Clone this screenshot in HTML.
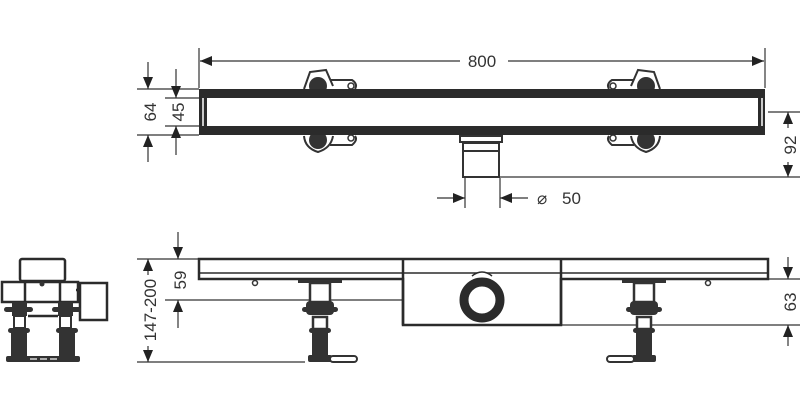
<!DOCTYPE html>
<html><head><meta charset="utf-8"><style>
html,body{margin:0;padding:0;background:#fff;}
svg{display:block;}
text{font-family:"Liberation Sans",sans-serif;font-size:17px;fill:#333;}
</style></head><body>
<svg width="800" height="414" viewBox="0 0 800 414" xmlns="http://www.w3.org/2000/svg">
<defs>
<marker id="a" viewBox="0 0 12 10" refX="12" refY="5" markerWidth="12" markerHeight="10" markerUnits="userSpaceOnUse" orient="auto"><path d="M0,0L12,5L0,10z" fill="#222"/></marker>
</defs>
<g stroke="#333" stroke-width="1.2" fill="none">
<line x1="199" y1="48" x2="199" y2="88"/><line x1="765" y1="48" x2="765" y2="88"/>
<line x1="460" y1="61" x2="200" y2="61" marker-end="url(#a)"/>
<line x1="508" y1="61" x2="764" y2="61" marker-end="url(#a)"/>
<line x1="137" y1="89" x2="199" y2="89"/><line x1="137" y1="135" x2="199" y2="135"/>
<line x1="165" y1="98" x2="199" y2="98"/><line x1="165" y1="126" x2="199" y2="126"/>
<line x1="148" y1="62" x2="148" y2="89" marker-end="url(#a)"/>
<line x1="148" y1="162" x2="148" y2="135" marker-end="url(#a)"/>
<line x1="176" y1="69" x2="176" y2="98" marker-end="url(#a)"/>
<line x1="176" y1="155" x2="176" y2="126" marker-end="url(#a)"/>
<line x1="768" y1="112" x2="800" y2="112"/><line x1="500" y1="177" x2="800" y2="177"/>
<line x1="788" y1="128" x2="788" y2="112" marker-end="url(#a)"/>
<line x1="788" y1="162" x2="788" y2="177" marker-end="url(#a)"/>
<line x1="465" y1="178" x2="465" y2="208"/><line x1="500" y1="178" x2="500" y2="208"/>
<line x1="437" y1="198" x2="465" y2="198" marker-end="url(#a)"/>
<line x1="528" y1="198" x2="500" y2="198" marker-end="url(#a)"/>
<line x1="137" y1="259" x2="199" y2="259"/><line x1="137" y1="362" x2="305" y2="362"/>
<line x1="148" y1="275" x2="148" y2="259" marker-end="url(#a)"/>
<line x1="148" y1="346" x2="148" y2="362" marker-end="url(#a)"/>
<line x1="165" y1="300" x2="480" y2="300"/>
<line x1="178" y1="232" x2="178" y2="259" marker-end="url(#a)"/>
<line x1="178" y1="328" x2="178" y2="300" marker-end="url(#a)"/>
<line x1="768" y1="279" x2="800" y2="279"/><line x1="561" y1="325" x2="800" y2="325"/>
<line x1="788" y1="257" x2="788" y2="279" marker-end="url(#a)"/>
<line x1="788" y1="346" x2="788" y2="325" marker-end="url(#a)"/>
</g>
<text x="482" y="67" text-anchor="middle">800</text>
<text x="537" y="204">⌀</text><text x="562" y="204">50</text>
<text transform="translate(156,112) rotate(-90)" text-anchor="middle">64</text>
<text transform="translate(184,112) rotate(-90)" text-anchor="middle">45</text>
<text transform="translate(796,145) rotate(-90)" text-anchor="middle">92</text>
<text transform="translate(156,310) rotate(-90)" text-anchor="middle">147-200</text>
<text transform="translate(186,280) rotate(-90)" text-anchor="middle">59</text>
<text transform="translate(796,302) rotate(-90)" text-anchor="middle">63</text>

<g fill="none" stroke="#333" stroke-width="2">
<path d="M304,89 L310,72 L326,70 L333,86"/><path d="M330,80 L352,80 Q358,84 355,89"/>
<path d="M304,136 Q305,148 318,152 Q331,148 333,136"/><path d="M330,145 L352,145 Q358,140 355,136"/>
<path d="M660,89 L654,72 L638,70 L631,86"/><path d="M634,80 L612,80 Q606,84 609,89"/>
<path d="M660,136 Q659,148 646,152 Q633,148 631,136"/><path d="M634,145 L612,145 Q606,140 609,136"/>
</g>
<circle cx="318" cy="86" r="9" fill="#333"/><circle cx="318" cy="140" r="9" fill="#333"/>
<circle cx="646" cy="86" r="9" fill="#333"/><circle cx="646" cy="140" r="9" fill="#333"/>
<g fill="none" stroke="#333" stroke-width="1.5">
<circle cx="351" cy="86" r="3"/><circle cx="351" cy="138" r="3"/><circle cx="613" cy="86" r="3"/><circle cx="613" cy="138" r="3"/>
</g>
<rect x="199" y="89" width="566" height="46" fill="#2b2b2b"/>
<rect x="207" y="98" width="551" height="28" fill="#fff"/>
<line x1="203" y1="98" x2="203" y2="126" stroke="#fff" stroke-width="1.5"/>
<line x1="762" y1="98" x2="762" y2="126" stroke="#fff" stroke-width="1.5"/>
<g fill="#fff" stroke="#333" stroke-width="2">
<rect x="460" y="136" width="42" height="6"/>
<rect x="463" y="143" width="36" height="8"/>
<rect x="463" y="151" width="36" height="26"/>
</g>
<g fill="#fff" stroke="#2b2b2b" stroke-width="2.5">
<path d="M199,259 L768,259 L768,279 L561,279 L561,325 L403,325 L403,279 L199,279 Z"/>
<line x1="199" y1="273" x2="768" y2="273" stroke-width="1.5"/>
<line x1="403" y1="259" x2="403" y2="325"/>
<line x1="561" y1="259" x2="561" y2="325"/>
<path d="M472,276 Q482,268 492,276" stroke-width="1.5"/>
</g>
<circle cx="482" cy="300" r="18" fill="none" stroke="#2b2b2b" stroke-width="9"/>
<circle cx="255" cy="283" r="2.5" fill="none" stroke="#333" stroke-width="1.5"/>
<circle cx="708" cy="283" r="2.5" fill="none" stroke="#333" stroke-width="1.5"/>
<g id="leg">
<rect x="298" y="280" width="44" height="3" fill="#333"/>
<rect x="310" y="283" width="20" height="19" fill="#fff" stroke="#333" stroke-width="2.5"/>
<rect x="306" y="301" width="28" height="14" rx="4" fill="#333"/>
<rect x="302" y="307" width="36" height="5" rx="2.5" fill="#333"/>
<rect x="313" y="317" width="14" height="12" fill="#fff" stroke="#333" stroke-width="2.5"/>
<rect x="309" y="328" width="22" height="5" rx="2.5" fill="#333"/>
<rect x="312" y="333" width="16" height="25" fill="#333"/>
<rect x="308" y="355" width="24" height="7" rx="2" fill="#333"/>
</g>
<rect x="330" y="356" width="27" height="6" rx="3" fill="#fff" stroke="#333" stroke-width="2"/>
<use href="#leg" transform="translate(964,0) scale(-1,1)"/>
<rect x="607" y="356" width="27" height="6" rx="3" fill="#fff" stroke="#333" stroke-width="2"/>
<g fill="#fff" stroke="#2b2b2b" stroke-width="2.5">
<rect x="20" y="259" width="45" height="22" rx="2"/>
<rect x="80" y="283" width="27" height="37"/>
<rect x="2" y="282" width="76" height="20"/>
<line x1="25" y1="282" x2="25" y2="302"/><line x1="60" y1="282" x2="60" y2="302"/>
<line x1="28" y1="316" x2="58" y2="316"/>
<line x1="76" y1="290" x2="80" y2="290"/>
</g>
<circle cx="42" cy="284" r="2.5" fill="#333"/>
<g fill="#333">
<rect x="4" y="307" width="29" height="5" rx="2.5"/><rect x="52" y="307" width="29" height="5" rx="2.5"/>
<rect x="12" y="302" width="15" height="14"/><rect x="58" y="302" width="15" height="14"/>
<rect x="8" y="328" width="22" height="5" rx="2.5"/><rect x="56" y="328" width="22" height="5" rx="2.5"/>
<rect x="11" y="333" width="16" height="29"/><rect x="59" y="333" width="16" height="29"/>
<rect x="6" y="356" width="74" height="6" rx="2"/>
</g>
<g fill="#fff" stroke="#333" stroke-width="2">
<rect x="14" y="316" width="11" height="12"/><rect x="60" y="316" width="11" height="12"/>
</g>
<g stroke="#fff" stroke-width="1.2"><line x1="30" y1="359" x2="37" y2="359"/><line x1="40" y1="359" x2="47" y2="359"/><line x1="50" y1="359" x2="57" y2="359"/></g>
</svg>
</body></html>
